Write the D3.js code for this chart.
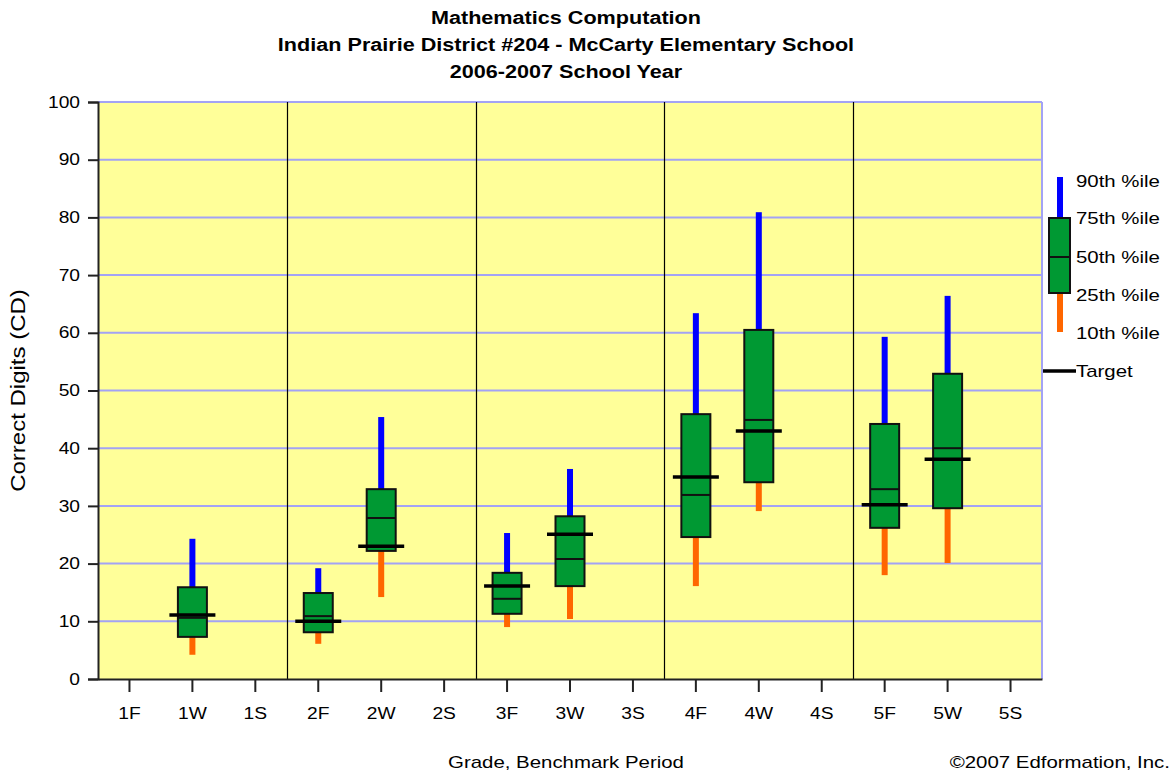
<!DOCTYPE html>
<html>
<head>
<meta charset="utf-8">
<script src="https://cdn.jsdelivr.net/npm/d3@7"></script>
<style>
  body { margin: 0; background: #fff; }
  text { font-family: "Liberation Sans", Arial, sans-serif; fill: #000; }
  .title { font-weight: bold; font-size: 18px; }
</style>
</head>
<body>
<div id="chart"></div>
<script>

// benchmark periods along the x axis
var periods = ["1F","1W","1S","2F","2W","2S","3F","3W","3S","4F","4W","4S","5F","5W","5S"];

// percentile values per period (null = no data)
var p90 = [null, 24.3, null, 19.2, 45.4, null, 25.3, 36.4, null, 63.4, 80.9, null, 59.3, 66.4, null];
var p75 = [null, 15.9, null, 14.9, 32.9, null, 18.4, 28.2, null, 45.9, 60.5, null, 44.2, 52.9, null];
var p50 = [null, 10.6, null, 10.9, 27.9, null, 13.9, 20.8, null, 31.9, 44.9, null, 32.9, 40.0, null];
var p25 = [null,  7.3, null,  8.1, 22.2, null, 11.3, 16.1, null, 24.6, 34.1, null, 26.2, 29.6, null];
var p10 = [null,  4.2, null,  6.1, 14.2, null,  9.0, 10.4, null, 16.1, 29.1, null, 18.0, 20.1, null];
var target = [null, 11.1, null, 10.0, 23.0, null, 16.1, 25.1, null, 35.0, 43.0, null, 30.2, 38.1, null];

var yTicks = [0,10,20,30,40,50,60,70,80,90,100];
var legendLabels = ["90th %ile","75th %ile","50th %ile","25th %ile","10th %ile"];

var width = 1175, height = 772;
var margin = {top: 102, right: 133, bottom: 93, left: 98};

var svg = d3.select("#chart").append("svg")
    .attr("width", width)
    .attr("height", height);

// titles
var titles = ["Mathematics Computation",
              "Indian Prairie District #204 - McCarty Elementary School",
              "2006-2007 School Year"];
svg.selectAll(".title").data(titles).enter().append("text")
    .attr("class", "title")
    .attr("x", 566)
    .attr("y", function(d, i){ return 24 + i * 27; })
    .attr("text-anchor", "middle")
    .text(function(d){ return d; });

var x = d3.scaleBand()
    .domain(periods)
    .range([margin.left, width - margin.right]);

var y = d3.scaleLinear()
    .domain([0, 100])
    .range([height - margin.bottom, margin.top]);

// plot background
svg.append("rect")
    .attr("x", margin.left)
    .attr("y", margin.top)
    .attr("width", width - margin.left - margin.right)
    .attr("height", y(0) - y(100))
    .attr("fill", "#ffff99");

// horizontal grid lines
svg.selectAll(".grid").data(yTicks.slice(1)).enter().append("line")
    .attr("x1", margin.left)
    .attr("x2", width - margin.right)
    .attr("y1", function(d){ return y(d); })
    .attr("y2", function(d){ return y(d); })
    .attr("stroke", "#a3a3f5")
    .attr("stroke-width", 2);

// right border
svg.append("line")
    .attr("x1", width - margin.right).attr("x2", width - margin.right)
    .attr("y1", y(100)).attr("y2", y(0))
    .attr("stroke", "#a3a3f5").attr("stroke-width", 2);

// grade separators
var seps = periods.filter(function(d, i){ return i % 3 == 0 && i > 0; });
svg.selectAll(".sep").data(seps).enter().append("line")
    .attr("x1", function(d){ return Math.round(x(d)) + 0.5; })
    .attr("x2", function(d){ return Math.round(x(d)) + 0.5; })
    .attr("y1", y(100))
    .attr("y2", y(0))
    .attr("stroke", "#000")
    .attr("stroke-width", 1.2);

// axes
var yAxis = d3.axisLeft(y).tickValues(yTicks).tickSize(10).tickPadding(8);
var gy = svg.append("g")
    .attr("transform", "translate(" + margin.left + ",0)")
    .call(yAxis);
gy.select(".domain").attr("stroke-width", 2).attr("stroke", "#222");
gy.selectAll(".tick line").attr("stroke-width", 2).attr("stroke", "#222");
gy.selectAll("text").style("font-size", "16px").attr("fill", "#000");

var xAxis = d3.axisBottom(x).tickSize(13).tickPadding(16).tickSizeOuter(0);
var gx = svg.append("g")
    .attr("transform", "translate(0," + y(0) + ")")
    .call(xAxis);
gx.select(".domain").attr("stroke-width", 2).attr("stroke", "#222");
gx.selectAll(".tick line").attr("stroke-width", 2).attr("stroke", "#222");
gx.selectAll("text").style("font-size", "16px").attr("fill", "#000");

// axis titles
svg.append("text")
    .attr("transform", "translate(25," + ((y(0) + y(100)) / 2) + ") rotate(-90)")
    .attr("text-anchor", "middle")
    .style("font-size", "20px")
    .text("Correct Digits (CD)");

svg.append("text")
    .attr("x", 566).attr("y", 768)
    .attr("text-anchor", "middle")
    .style("font-size", "17px")
    .text("Grade, Benchmark Period");

svg.append("text")
    .attr("x", 1170).attr("y", 768)
    .attr("text-anchor", "end")
    .style("font-size", "17px")
    .text("\u00a92007 Edformation, Inc.");

// box data
var boxes = periods.map(function(p, i){
    return {p: p, p90: p90[i], p75: p75[i], p50: p50[i], p25: p25[i], p10: p10[i], t: target[i]};
}).filter(function(d){ return d.p50 != null; });

var boxW = 29, whW = 6, tW = 46;
var g = svg.append("g");

boxes.forEach(function(d){
    var cx = x(d.p) + x.bandwidth() / 2;
    g.append("rect")
        .attr("x", cx - whW / 2).attr("width", whW)
        .attr("y", y(d.p90)).attr("height", y(d.p75) - y(d.p90))
        .attr("fill", "#0000ff");
    g.append("rect")
        .attr("x", cx - whW / 2).attr("width", whW)
        .attr("y", y(d.p25)).attr("height", y(d.p10) - y(d.p25))
        .attr("fill", "#ff6600");
    g.append("rect")
        .attr("x", cx - boxW / 2).attr("width", boxW)
        .attr("y", y(d.p75)).attr("height", y(d.p25) - y(d.p75))
        .attr("fill", "#009933")
        .attr("stroke", "#111").attr("stroke-width", 2);
    g.append("line")
        .attr("x1", cx - boxW / 2).attr("x2", cx + boxW / 2)
        .attr("y1", y(d.p50)).attr("y2", y(d.p50))
        .attr("stroke", "#111").attr("stroke-width", 2);
    g.append("line")
        .attr("x1", cx - tW / 2).attr("x2", cx + tW / 2)
        .attr("y1", y(d.t)).attr("y2", y(d.t))
        .attr("stroke", "#000").attr("stroke-width", 3.5);
});

// legend
var leg = svg.append("g").attr("transform", "translate(1060,0)");
var ly = [177, 218, 257, 293, 332];
leg.append("rect").attr("x", -3).attr("width", 6).attr("y", ly[0]).attr("height", ly[1] - ly[0]).attr("fill", "#0000ff");
leg.append("rect").attr("x", -3).attr("width", 6).attr("y", ly[3]).attr("height", ly[4] - ly[3]).attr("fill", "#ff6600");
leg.append("rect").attr("x", -11).attr("width", 21).attr("y", ly[1]).attr("height", ly[3] - ly[1])
    .attr("fill", "#009933").attr("stroke", "#111").attr("stroke-width", 2);
leg.append("line").attr("x1", -11).attr("x2", 10).attr("y1", ly[2]).attr("y2", ly[2])
    .attr("stroke", "#111").attr("stroke-width", 2);
leg.selectAll(".lt").data(legendLabels).enter().append("text")
    .attr("x", 16)
    .attr("y", function(d, i){ return [181, 218, 257, 295, 333][i]; })
    .attr("dy", "0.35em")
    .style("font-size", "17px")
    .text(function(d){ return d; });
leg.append("line").attr("x1", -17).attr("x2", 16).attr("y1", 371).attr("y2", 371)
    .attr("stroke", "#000").attr("stroke-width", 3.5);
leg.append("text").attr("x", 16).attr("y", 371).attr("dy", "0.35em")
    .style("font-size", "17px").text("Target");

// the original text is rendered wider than Arial; stretch every label a bit
svg.selectAll("text").each(function(){
    var w = this.getComputedTextLength();
    d3.select(this)
        .attr("textLength", w * 1.2)
        .attr("lengthAdjust", "spacingAndGlyphs");
});

</script>
</body>
</html>
